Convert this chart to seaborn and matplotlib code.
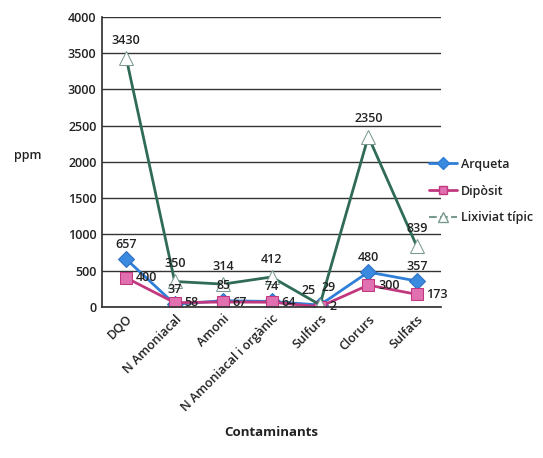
import matplotlib
matplotlib.use("Agg")
import matplotlib.pyplot as plt
import seaborn as sns
import pandas as pd
from matplotlib.lines import Line2D

categories = ["DQO", "N Amoniacal", "Amoni", "N Amoniacal i orgànic", "Sulfurs", "Clorurs", "Sulfats"]
arqueta = [657, 37, 85, 74, 25, 480, 357]
diposit = [400, 58, 67, 64, 2, 300, 173]
lixiviat = [3430, 350, 314, 412, 29, 2350, 839]
series_names = ["Arqueta", "Dipòsit", "Lixiviat típic"]
yticks = [0, 500, 1000, 1500, 2000, 2500, 3000, 3500, 4000]

sns.set_theme(style="white")
plt.rcParams['font.family'] = ['Open Sans', 'DejaVu Sans']

rows = []
for name, vals in zip(series_names, [arqueta, diposit, lixiviat]):
    for i, (c, v) in enumerate(zip(categories, vals)):
        rows.append({"Contaminant": c, "pos": i, "ppm": v, "Sèrie": name})
df = pd.DataFrame(rows)

colors = {"Arqueta": "#2f7fd8", "Dipòsit": "#c2387f", "Lixiviat típic": "#2f6b55"}
markers = {"Arqueta": "D", "Dipòsit": "s", "Lixiviat típic": "^"}
txt = "#222222"

fig = plt.figure(figsize=(5.43, 4.58), dpi=100)
ax = fig.add_axes([0.188, 0.330, 0.624, 0.633])

sns.lineplot(data=df, x="pos", y="ppm", hue="Sèrie", style="Sèrie",
             palette=colors, markers=markers, dashes=False, ax=ax,
             linewidth=2, markersize=8, legend=False)
for line, name in zip(ax.get_lines(), series_names):
    if name == "Dipòsit":
        line.set_markerfacecolor("#e070b0")
        line.set_markeredgecolor("#c2387f")
    elif name == "Lixiviat típic":
        line.set_markerfacecolor("white")
        line.set_markeredgecolor("#7a9a90")
        line.set_markersize(10)
    else:
        line.set_markerfacecolor("#3a8ae0")
        line.set_markeredgecolor("#2f6fc0")

ax.set_xlim(-0.5, len(categories) - 0.5)
ax.set_ylim(0, 4000)
ax.set_yticks(yticks)
ax.set_yticklabels([str(t) for t in yticks], fontsize=9, color=txt, fontweight="semibold")
ax.set_xticks(range(len(categories)))
ax.set_xticklabels(categories, rotation=45, ha="right", rotation_mode="anchor",
                   fontsize=9, color=txt, fontweight="semibold")
ax.yaxis.grid(True, color="#333333", linewidth=1)
ax.xaxis.grid(False)
for s in ["top", "right"]:
    ax.spines[s].set_visible(False)
ax.spines["left"].set_color("#333333")
ax.spines["bottom"].set_color("#333333")
ax.tick_params(axis="both", length=0, pad=4)

ax.set_xlabel("Contaminants", fontsize=9.5, fontweight="bold", color=txt, labelpad=8)
ax.set_ylabel("ppm", fontsize=9, rotation=0, color=txt, fontweight="semibold")
ax.yaxis.set_label_coords(-0.22, 0.5)

for i, v in enumerate(lixiviat):
    dx = 6 if i == 4 else 0
    ax.annotate(str(v), (i, v), xytext=(dx, 8), textcoords="offset points",
                ha="center", va="bottom", fontsize=9, color=txt, fontweight="semibold")
for i, v in enumerate(arqueta):
    dx = -8 if i == 4 else 0
    ax.annotate(str(v), (i, v), xytext=(dx, 6), textcoords="offset points",
                ha="center", va="bottom", fontsize=9, color=txt, fontweight="semibold")
for i, v in enumerate(diposit):
    ax.annotate(str(v), (i, v), xytext=(7, 0), textcoords="offset points",
                ha="left", va="center", fontsize=9, color=txt, fontweight="semibold")

handles = [
    Line2D([], [], color=colors["Arqueta"], marker="D", markerfacecolor="#3a8ae0",
           markersize=6, linewidth=2),
    Line2D([], [], color=colors["Dipòsit"], marker="s", markerfacecolor="#e070b0",
           markersize=6, linewidth=2),
    Line2D([], [], color="#7a9a90", marker="^", markerfacecolor="white",
           markersize=7, linewidth=1.5, linestyle="--"),
]
leg = fig.legend(handles, series_names, loc="upper left", bbox_to_anchor=(0.77, 0.68),
                 frameon=False, fontsize=9, handlelength=2.2, labelspacing=1.1,
                 handletextpad=0.3)
for t in leg.get_texts():
    t.set_color(txt)
    t.set_fontweight("semibold")

fig.savefig("out.png", dpi=100)
